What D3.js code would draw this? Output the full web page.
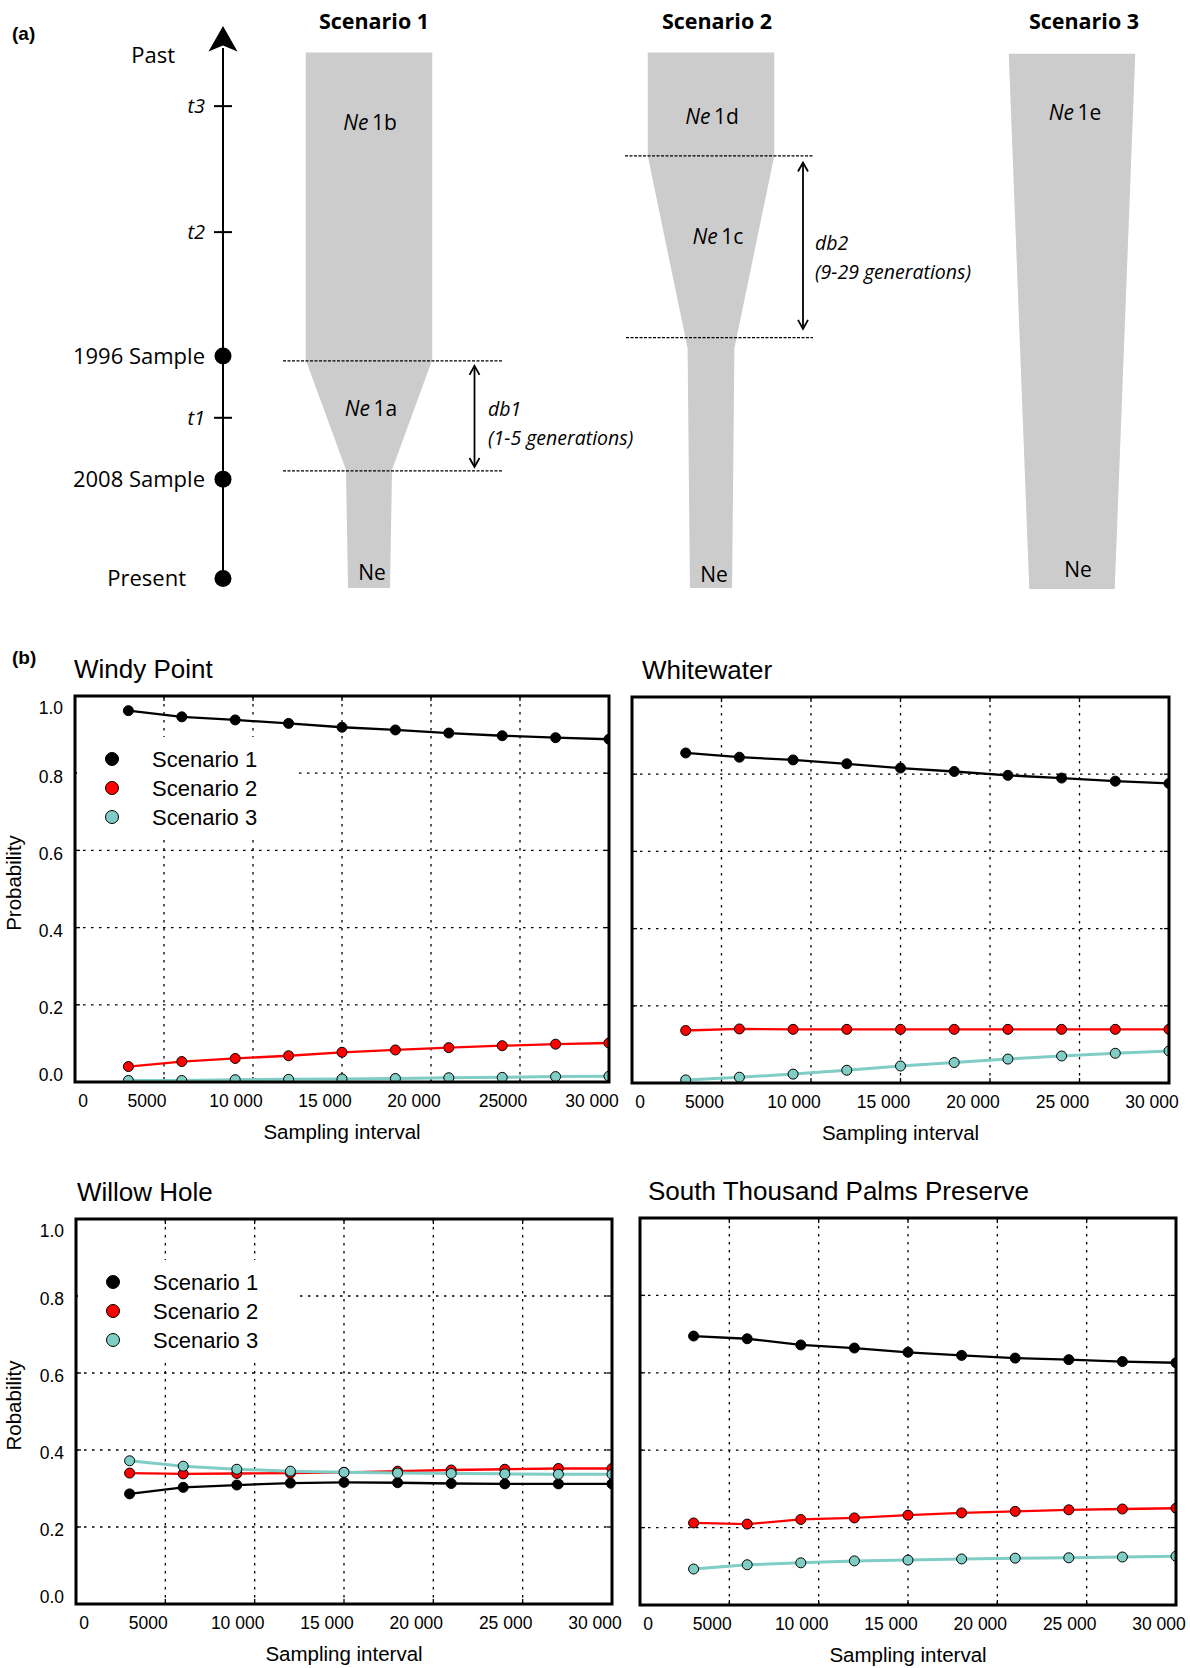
<!DOCTYPE html>
<html>
<head>
<meta charset="utf-8">
<script src="https://cdn.jsdelivr.net/npm/d3@7"></script>
<style>
  body { margin: 0; background: #fff; }
  svg { display: block; }
</style>
</head>
<body>
<svg id="fig" width="1190" height="1668"></svg>
<script>
// ---- data --------------------------------------------------------------
var intervals = [3000, 6000, 9000, 12000, 15000, 18000, 21000, 24000, 27000, 30000];
var xTicks = [0, 5000, 10000, 15000, 20000, 25000, 30000];
var xLabelsWindy = ['0', '5000', '10 000', '15 000', '20 000', '25000', '30 000'];
var xLabelsOther = ['0', '5000', '10 000', '15 000', '20 000', '25 000', '30 000'];
var yTicks = [0, 0.2, 0.4, 0.6, 0.8, 1.0];
var yTickLabels = ['0.0', '0.2', '0.4', '0.6', '0.8', '1.0'];
var scenarioNames = ['Scenario 1', 'Scenario 2', 'Scenario 3'];
var scenarioColors = ['#000000', '#ff0000', '#7fcdc5'];

var windyS1 = [0.962, 0.946, 0.938, 0.929, 0.919, 0.912, 0.904, 0.897, 0.892, 0.888];
var windyS2 = [0.040, 0.053, 0.061, 0.068, 0.077, 0.083, 0.089, 0.094, 0.098, 0.101];
var windyS3 = [0.004, 0.004, 0.006, 0.007, 0.008, 0.009, 0.011, 0.012, 0.014, 0.015];

var whiteS1 = [0.855, 0.844, 0.837, 0.827, 0.816, 0.807, 0.797, 0.790, 0.782, 0.776];
var whiteS2 = [0.136, 0.140, 0.139, 0.139, 0.139, 0.139, 0.139, 0.139, 0.139, 0.139];
var whiteS3 = [0.008, 0.015, 0.023, 0.033, 0.044, 0.053, 0.062, 0.070, 0.077, 0.083];

var willowS1 = [0.286, 0.303, 0.309, 0.314, 0.316, 0.315, 0.313, 0.312, 0.312, 0.312];
var willowS2 = [0.340, 0.338, 0.339, 0.340, 0.342, 0.345, 0.348, 0.350, 0.352, 0.352];
var willowS3 = [0.372, 0.358, 0.350, 0.345, 0.342, 0.340, 0.339, 0.338, 0.337, 0.337];

var palmsS1 = [0.695, 0.688, 0.672, 0.664, 0.653, 0.645, 0.638, 0.634, 0.629, 0.626];
var palmsS2 = [0.212, 0.209, 0.221, 0.225, 0.232, 0.238, 0.242, 0.246, 0.248, 0.250];
var palmsS3 = [0.093, 0.104, 0.109, 0.114, 0.116, 0.119, 0.121, 0.122, 0.124, 0.126];

// schematic (a): time points (0 = present, 100 = top of arrow)
var timeEvents = [
  {label: 'Present', t: 0, kind: 'dot'},
  {label: '2008 Sample', t: 18.0, kind: 'dot'},
  {label: 't1', t: 29.1, kind: 'tick'},
  {label: '1996 Sample', t: 40.3, kind: 'dot'},
  {label: 't2', t: 62.7, kind: 'tick'},
  {label: 't3', t: 85.5, kind: 'tick'},
  {label: 'Past', t: 94.7, kind: 'text'}
];
// population profile per scenario: [time, relative size]
var profile1 = [[95.2, 1.0], [39.6, 1.0], [19.7, 0.364], [-1.7, 0.332]];
var profile2 = [[95.2, 1.0], [76.5, 1.0], [41.7, 0.370], [-1.7, 0.333]];
var profile3 = [[95.0, 1.0], [-1.9, 0.675]];

// ---- figure ------------------------------------------------------------
var svg = d3.select('#fig');
var SANS_A = '"Open Sans", "Noto Sans", sans-serif';
var SANS_B = '"Liberation Sans", Arial, sans-serif';

// ---------- (a) schematic ----------
var tScale = d3.scaleLinear().domain([0, 100]).range([578.6, 26]);
var wScale = d3.scaleLinear().domain([0, 1]).range([0, 126.5]);
var AXIS_X = 223;
var gA = svg.append('g').attr('font-family', SANS_A);

svg.append('text').attr('x', 12).attr('y', 40).text('(a)')
  .attr('font-family', SANS_B).attr('font-weight', 'bold').attr('font-size', 19);

var scenarios = [
  {name: 'Scenario 1', cx: 369, titleDx: 5, profile: profile1},
  {name: 'Scenario 2', cx: 711, titleDx: 6, profile: profile2},
  {name: 'Scenario 3', cx: 1072, titleDx: 12, profile: profile3}
];

var area = d3.area()
  .y(function(d) { return tScale(d[0]); })
  .x0(function(d) { return -wScale(d[1]) / 2; })
  .x1(function(d) { return wScale(d[1]) / 2; });

scenarios.forEach(function(s) {
  var g = gA.append('g').attr('transform', 'translate(' + s.cx + ',0)');
  g.append('path').attr('d', area(s.profile)).attr('fill', '#cccccc');
  g.append('text').attr('x', s.titleDx).attr('y', 21).attr('dy', '0.36em')
    .attr('text-anchor', 'middle').attr('font-weight', 'bold').attr('font-size', 21.5)
    .text(s.name);
});

// time axis
gA.append('line').attr('x1', AXIS_X).attr('x2', AXIS_X)
  .attr('y1', tScale(0)).attr('y2', tScale(96))
  .attr('stroke', '#000').attr('stroke-width', 2);
var tipY = tScale(100);
gA.append('path')
  .attr('d', 'M' + AXIS_X + ',' + tipY + ' L' + (AXIS_X + 14.5) + ',' + (tipY + 25.5) +
    ' L' + AXIS_X + ',' + (tipY + 19.5) + ' L' + (AXIS_X - 14.5) + ',' + (tipY + 25.5) + 'Z')
  .attr('fill', '#000');

timeEvents.forEach(function(e) {
  var y = tScale(e.t);
  if (e.kind === 'dot') {
    gA.append('circle').attr('cx', AXIS_X).attr('cy', y).attr('r', 8.5).attr('fill', '#000');
  } else if (e.kind === 'tick') {
    gA.append('line').attr('x1', AXIS_X - 9).attr('x2', AXIS_X + 9)
      .attr('y1', y).attr('y2', y).attr('stroke', '#000').attr('stroke-width', 2);
  }
  var lx = AXIS_X - 18;
  if (e.label === 'Present') lx = AXIS_X - 37;
  if (e.label === 'Past') lx = AXIS_X - 48;
  gA.append('text').attr('x', lx).attr('y', y).attr('dy', '0.35em')
    .attr('text-anchor', 'end').attr('font-size', e.kind === 'tick' ? 20 : 22)
    .attr('font-style', e.kind === 'tick' ? 'italic' : 'normal')
    .text(e.label);
});

// dashed bounds and arrows
function dashed(x1, x2, t) {
  gA.append('line').attr('x1', x1).attr('x2', x2).attr('y1', tScale(t)).attr('y2', tScale(t))
    .attr('stroke', '#000').attr('stroke-width', 1.3).attr('stroke-dasharray', '3,1.5');
}
function dblArrow(x, t1, t2) {
  var y1 = tScale(t1), y2 = tScale(t2);
  gA.append('line').attr('x1', x).attr('x2', x).attr('y1', y1 + 2).attr('y2', y2 - 2)
    .attr('stroke', '#000').attr('stroke-width', 1.8);
  gA.append('path').attr('d', 'M' + (x - 5) + ',' + (y1 + 9) + ' L' + x + ',' + y1 + ' L' + (x + 5) + ',' + (y1 + 9))
    .attr('fill', 'none').attr('stroke', '#000').attr('stroke-width', 1.8);
  gA.append('path').attr('d', 'M' + (x - 5) + ',' + (y2 - 9) + ' L' + x + ',' + y2 + ' L' + (x + 5) + ',' + (y2 - 9))
    .attr('fill', 'none').attr('stroke', '#000').attr('stroke-width', 1.8);
}
dashed(283, 502, 39.4);
dashed(283, 502, 19.5);
dblArrow(474.5, 38.5, 20.2);
dashed(625, 813, 76.5);
dashed(626, 813, 43.6);
dblArrow(803, 75.3, 45.2);

function neLabel(x, t, suffix) {
  var tx = gA.append('text').attr('x', x).attr('y', tScale(t)).attr('dy', '0.35em')
    .attr('text-anchor', 'middle').attr('font-size', 21);
  if (suffix) {
    tx.append('tspan').attr('font-style', 'italic').text('Ne');
    tx.append('tspan').text('\u2009' + suffix);
  } else {
    tx.text('Ne');
  }
}
neLabel(370, 82.5, '1b');
neLabel(371, 30.7, '1a');
neLabel(372, 1.0, null);
neLabel(712, 83.6, '1d');
neLabel(718, 61.8, '1c');
neLabel(714, 0.8, null);
neLabel(1075, 84.4, '1e');
neLabel(1078, 1.6, null);

function italicNote(x, t, txt) {
  gA.append('text').attr('x', x).attr('y', tScale(t)).attr('dy', '0.35em')
    .attr('font-style', 'italic').attr('font-size', 19.5).text(txt);
}
italicNote(488, 30.7, 'db1');
italicNote(488, 25.4, '(1-5 generations)');
italicNote(815, 60.7, 'db2');
italicNote(815, 55.4, '(9-29 generations)');

// ---------- (b) probability panels ----------
svg.append('text').attr('x', 12).attr('y', 664).text('(b)')
  .attr('font-family', SANS_B).attr('font-weight', 'bold').attr('font-size', 19);

var panels = [
  {title: 'Windy Point', series: [windyS1, windyS2, windyS3], xLabels: xLabelsWindy,
    left: 75, right: 609, top: 696, bottom: 1082, titleX: 74, yLabel: 'Probability', legend: true},
  {title: 'Whitewater', series: [whiteS1, whiteS2, whiteS3], xLabels: xLabelsOther,
    left: 632, right: 1169, top: 697, bottom: 1083, titleX: 642},
  {title: 'Willow Hole', series: [willowS1, willowS2, willowS3], xLabels: xLabelsOther,
    left: 76, right: 612, top: 1219, bottom: 1604, titleX: 77, yLabel: 'Robability', legend: true},
  {title: 'South Thousand Palms Preserve', series: [palmsS1, palmsS2, palmsS3], xLabels: xLabelsOther,
    left: 640, right: 1176, top: 1218, bottom: 1605, titleX: 648}
];

panels.forEach(function(p, pi) {
  var x = d3.scaleLinear().domain([0, 30000]).range([p.left, p.right]);
  var y = d3.scaleLinear().domain([0, 1]).range([p.bottom, p.top]);
  var g = svg.append('g').attr('font-family', SANS_B);
  var clipId = 'clip' + pi;
  g.append('clipPath').attr('id', clipId).append('rect')
    .attr('x', p.left).attr('y', p.top).attr('width', p.right - p.left).attr('height', p.bottom - p.top);

  // grid
  g.selectAll('.hg').data(yTicks.filter(function(v) { return v > 0 && v < 1; })).enter()
    .append('line').attr('x1', p.left).attr('x2', p.right)
    .attr('y1', function(v) { return y(v); }).attr('y2', function(v) { return y(v); })
    .attr('stroke', '#000').attr('stroke-width', 1.3).attr('stroke-dasharray', '2.5,5.5');
  g.selectAll('.vg').data(xTicks.filter(function(v) { return v > 0 && v < 30000; })).enter()
    .append('line').attr('y1', p.top).attr('y2', p.bottom)
    .attr('x1', function(v) { return x(v); }).attr('x2', function(v) { return x(v); })
    .attr('stroke', '#000').attr('stroke-width', 1.3).attr('stroke-dasharray', '2.5,5.5');

  // inward ticks
  var tk = g.append('g').attr('stroke', '#000').attr('stroke-width', 1.3);
  yTicks.forEach(function(v) {
    tk.append('line').attr('x1', p.left).attr('x2', p.left + 5).attr('y1', y(v)).attr('y2', y(v));
    tk.append('line').attr('x1', p.right - 5).attr('x2', p.right).attr('y1', y(v)).attr('y2', y(v));
  });
  xTicks.forEach(function(v) {
    tk.append('line').attr('x1', x(v)).attr('x2', x(v)).attr('y1', p.top).attr('y2', p.top + 5);
    tk.append('line').attr('x1', x(v)).attr('x2', x(v)).attr('y1', p.bottom - 5).attr('y2', p.bottom);
  });

  // legend background hides the grid
  if (p.legend) {
    g.append('rect').attr('x', p.left + 2).attr('y', p.top + 41)
      .attr('width', 218).attr('height', 100).attr('fill', '#fff');
  }

  // series
  var plot = g.append('g').attr('clip-path', 'url(#' + clipId + ')');
  var line = d3.line()
    .x(function(d, i) { return x(intervals[i]); })
    .y(function(d) { return y(d); });
  p.series.forEach(function(vals, si) {
    plot.append('path').attr('d', line(vals)).attr('fill', 'none')
      .attr('stroke', scenarioColors[si]).attr('stroke-width', si === 2 ? 3 : 2.3);
    plot.selectAll('.pt' + si).data(vals).enter().append('circle')
      .attr('cx', function(d, i) { return x(intervals[i]); })
      .attr('cy', function(d) { return y(d); })
      .attr('r', 5).attr('fill', scenarioColors[si])
      .attr('stroke', '#000').attr('stroke-width', 1);
  });

  // frame
  g.append('rect').attr('x', p.left).attr('y', p.top)
    .attr('width', p.right - p.left).attr('height', p.bottom - p.top)
    .attr('fill', 'none').attr('stroke', '#000').attr('stroke-width', 3);

  // legend
  if (p.legend) {
    scenarioNames.forEach(function(name, si) {
      var ly = p.top + 63 + si * 29;
      g.append('circle').attr('cx', p.left + 37).attr('cy', ly).attr('r', 6.5)
        .attr('fill', scenarioColors[si]).attr('stroke', '#000').attr('stroke-width', 1);
      g.append('text').attr('x', p.left + 77).attr('y', ly).attr('dy', '0.36em')
        .attr('font-size', 22).text(name);
    });
  }

  // title
  g.append('text').attr('x', p.titleX).attr('y', p.top - 27).attr('dy', '0.36em')
    .attr('font-size', 26).text(p.title);

  // x tick labels (printed slightly left of the grid positions)
  g.selectAll('.xl').data(xTicks).enter().append('text')
    .attr('x', function(v) { return v === 0 ? x(v) + 8 : x(v) - 17; })
    .attr('y', p.bottom + 19).attr('dy', '0.36em')
    .attr('text-anchor', 'middle').attr('font-size', 17.5)
    .text(function(v, i) { return p.xLabels[i]; });

  g.append('text').attr('x', (p.left + p.right) / 2).attr('y', p.bottom + 50).attr('dy', '0.36em')
    .attr('text-anchor', 'middle').attr('font-size', 20.5).text('Sampling interval');

  // y tick labels + axis title for the left column
  if (p.yLabel) {
    g.selectAll('.yl').data(yTicks).enter().append('text')
      .attr('x', p.left - 12)
      .attr('y', function(v) { return Math.min(Math.max(y(v) + 3, p.top + 12), p.bottom - 7); })
      .attr('dy', '0.36em').attr('text-anchor', 'end').attr('font-size', 17.5)
      .text(function(v, i) { return yTickLabels[i]; });
    var cy = (p.top + p.bottom) / 2 - 6;
    g.append('text').attr('transform', 'translate(21,' + cy + ') rotate(-90)')
      .attr('text-anchor', 'middle').attr('font-size', 20.5).text(p.yLabel);
  }
});
</script>
</body>
</html>
